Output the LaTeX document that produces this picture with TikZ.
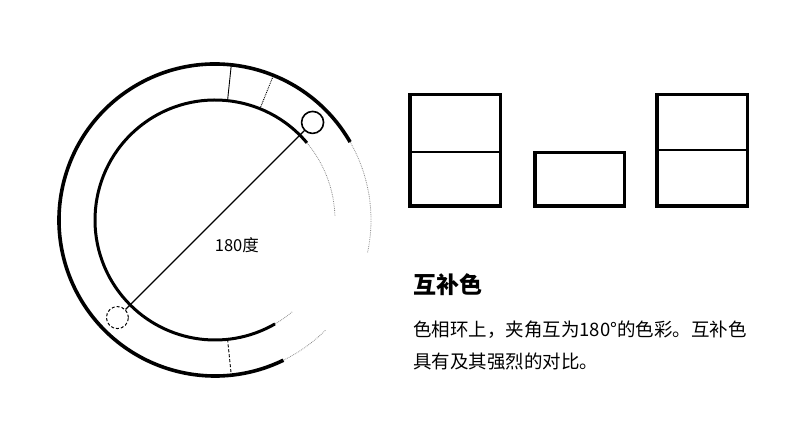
\documentclass[tikz,border=0pt]{standalone}
\usepackage{fontspec}
\newfontfamily\cjk{Noto Sans CJK SC}
\usetikzlibrary{calc}
\begin{document}
\begin{tikzpicture}[x=1pt,y=1pt]
\useasboundingbox (0,0) rectangle (800,422);
\tikzset{
  ring/.style={line width=3pt},
  faint/.style={line width=0.8pt,black!45,densely dotted},
  spoke/.style={line width=0.9pt},
  knob/.style={shape=circle,draw,line width=1.6pt,minimum size=22pt,inner sep=0pt},
  box/.style={draw,line width=3.5pt}
}
% colour wheel
\coordinate(c) at (215,202);
\draw[ring,line width=3.6pt] (c) ++(30:156) arc (30:296:156);
\draw[ring] (c) ++(40:120) arc (40:300:120);
\draw[faint] (c) ++(30:156) arc (30:-12:156);
\draw[faint] (c) ++(-45:156) arc (-45:-64:156);
\draw[faint] (c) ++(40:120) arc (40:2:120);
\draw[faint] (c) ++(-50:120) arc (-50:-60:120);
\draw[spoke] (c) ++(84:120) -- ++(84:36);
\draw[spoke,densely dotted] (c) ++(68:120) -- ++(68:36);
\draw[spoke,densely dashed] (c) ++(-84:120) -- ++(-84:36);

\node(hi) at ($(c)+(45:138)$)[knob]{};
\node(lo) at ($(c)+(225:138)$)[knob,line width=1pt,densely dashed]{};
\path [-,line width=1.2pt]
  (hi)      edge                 node [xshift=22pt,yshift=-25pt,font=\cjk\fontsize{16.5}{16.5}\selectfont]  {180度}     (lo);

% three swatches
\node(s1) at (455,271.5)[box,minimum width=90.5pt,minimum height=111.5pt]{};
\draw[line width=2pt] ($(s1.west)+(0,-1.5)$) -- ($(s1.east)+(0,-1.5)$);
\node(s2) at (579.5,242.5)[box,minimum width=89.5pt,minimum height=53.5pt]{};
\node(s3) at (702,271.5)[box,minimum width=90.5pt,minimum height=111.5pt]{};
\draw[line width=1.5pt] ($(s3.west)+(0,0.5)$) -- ($(s3.east)+(0,0.5)$);

% caption
\node(title) at (413,137)[anchor=west,inner sep=0pt,font=\cjk\bfseries\fontsize{23}{23}\selectfont]{互补色};
\node(body) at (413,101)[anchor=north west,inner sep=0pt,align=left,font=\cjk\fontsize{18.5}{32}\selectfont]
  {色相环上，夹角互为180°的色彩。互补色\\具有及其强烈的对比。};
\end{tikzpicture}
\end{document}
